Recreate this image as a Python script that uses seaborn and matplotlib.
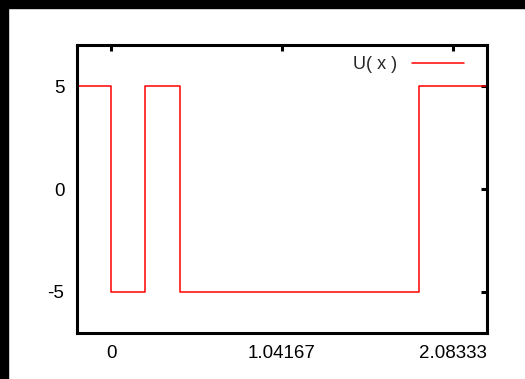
import numpy as np
import pandas as pd
import matplotlib
matplotlib.use("Agg")
import matplotlib.pyplot as plt
from matplotlib.patches import Rectangle
import seaborn as sns

sns.set_style("white")
plt.rcParams['font.family'] = ['Liberation Sans', 'DejaVu Sans']
plt.rcParams['axes.unicode_minus'] = False

# step potential U(x), edges in units of 1/24
x_edges = [-5/24, 0, 5/24, 10/24, 45/24, 55/24]
u_vals = [5, -5, 5, -5, 5, 5]
x_ticks = [0, 25/24, 50/24]
x_ticklabels = ["0", "1.04167", "2.08333"]
y_ticks = [-5, 0, 5]

df = pd.DataFrame({"x": x_edges, "U": u_vals})

fig = plt.figure(figsize=(5.25, 3.79), dpi=100, facecolor="white")
ax = fig.add_axes([77/525, 1 - 333/379, 410/525, 288/379])

sns.lineplot(data=df, x="x", y="U", ax=ax, color="red", linewidth=1.1,
             drawstyle="steps-post", label="U( x )", sort=False)

ax.set_xlim(-5/24, 55/24)
ax.set_ylim(-7, 7)
ax.set_xticks(x_ticks)
ax.set_xticklabels(x_ticklabels)
ax.set_yticks(y_ticks)
ax.set_xlabel("")
ax.set_ylabel("")

for s in ax.spines.values():
    s.set_visible(True)
    s.set_color("black")
    s.set_linewidth(2.2)
ax.tick_params(direction="in", length=4.5, width=2.2, top=True, right=True,
               labelsize=13.5, pad=9, colors="black")

leg = ax.legend(loc="upper right", frameon=False, markerfirst=False,
                fontsize=13, handlelength=2.9, borderaxespad=0.2,
                bbox_to_anchor=(0.97, 1.0))

# black frame bars at top and left of the image
fig.patches.append(Rectangle((0, 1 - 8/379), 1, 8/379, transform=fig.transFigure,
                             color="black", zorder=10))
fig.patches.append(Rectangle((0, 0), 8/525, 1, transform=fig.transFigure,
                             color="black", zorder=10))

fig.savefig("out.png", dpi=100, facecolor="white")
